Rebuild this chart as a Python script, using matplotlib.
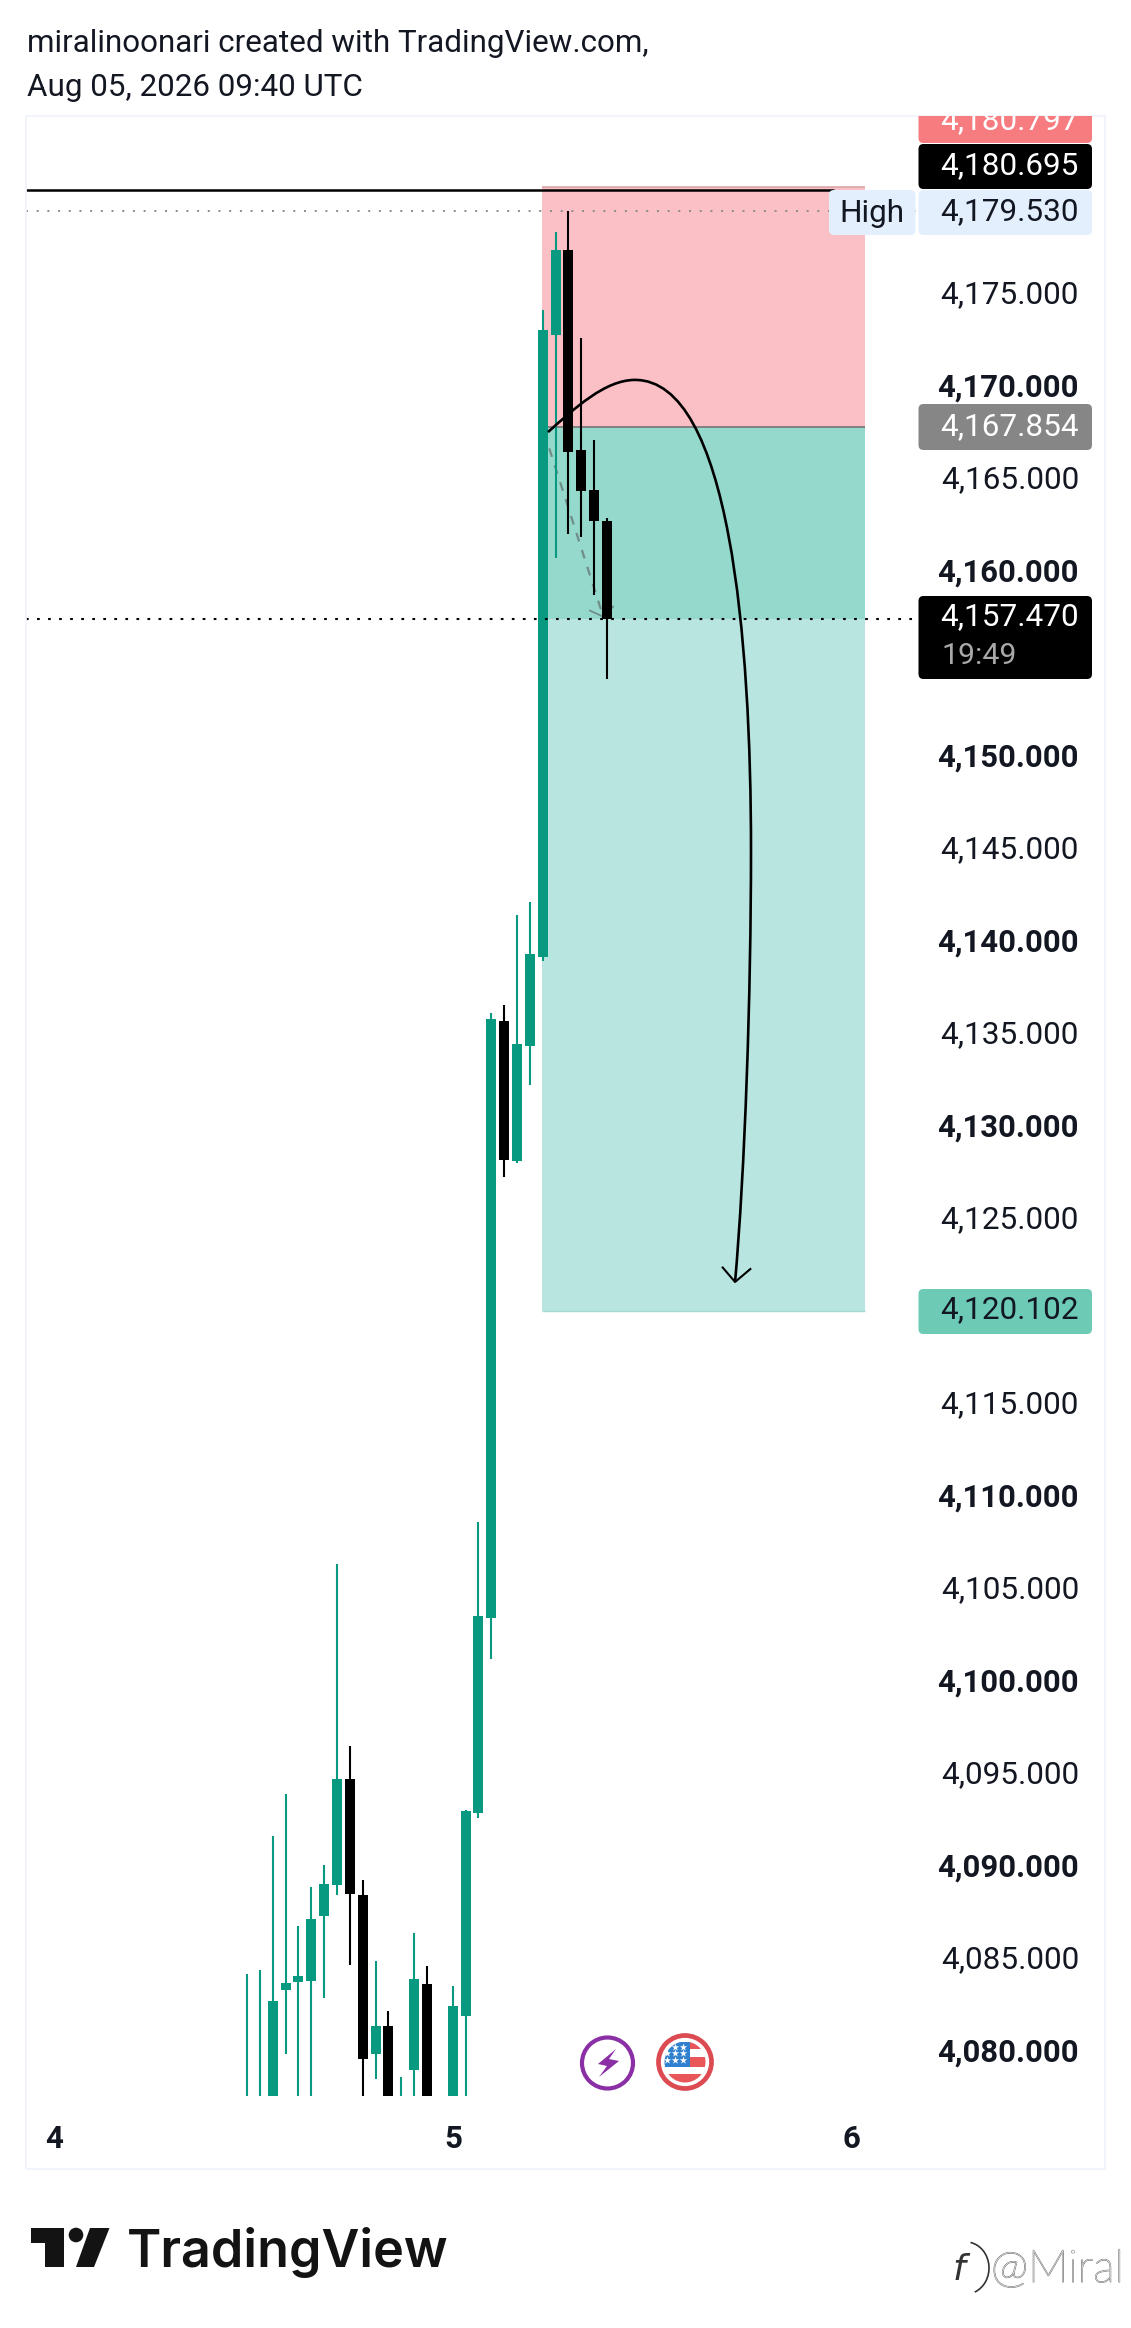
import matplotlib
matplotlib.use('Agg')
import matplotlib.pyplot as plt
import matplotlib.patheffects as pe
from matplotlib.patches import Rectangle, Circle, Polygon, FancyBboxPatch, PathPatch, Arc
from matplotlib.path import Path

plt.rcParams['font.family'] = ['Roboto', 'DejaVu Sans']

# Candles. First is bar 0, values below 4077.6 are cut by the pane
opens = [4076, 4076, 4076, 4083.38, 4083.8, 4083.86, 4087.38, 4089.03, 4094.79, 4088.53,
         4079.93, 4081.42, 4076, 4079.04, 4083.7, None, 4076, 4082.0, 4092.96, 4103.5,
         4135.76, 4128.2, 4134.4, 4139.2, 4172.86, 4177.43, 4166.6, 4164.44, 4162.8]
closes = [4076.5, 4076.5, 4082.77, 4083.74, 4084.16, 4087.21, 4089.13, 4094.79, 4088.58, 4079.65,
          4081.42, 4076, 4076.5, 4083.96, 4076, None, 4082.52, 4093.06, 4103.59, 4135.87,
          4128.24, 4134.5, 4139.4, 4173.1, 4177.43, 4166.5, 4164.4, 4162.8, 4157.47]
highs = [4084.26, 4084.46, 4091.71, 4094.0, 4086.84, 4088.93, 4090.12, 4106.42, 4096.58, 4089.33,
         4084.95, 4082.27, 4078.69, 4086.44, 4084.66, None, 4083.57, 4093.1, 4108.67, 4136.2,
         4136.6, 4141.5, 4142.2, 4174.2, 4178.4, 4179.53, 4172.7, 4167.15, 4162.95]
lows = [4074, 4074, 4074, 4079.93, 4074, 4074, 4082.97, 4088.53, 4084.75, 4074,
        4078.59, 4074, 4074, 4074, 4074, None, 4074, 4074, 4092.7, 4101.25,
        4127.3, 4128.1, 4132.3, 4139.0, 4160.76, 4162.1, 4161.9, 4158.8, 4154.26]

# Price levels, 4155 and 4120 sit under the price boxes so they are left out
price_ticks = [4175, 4170, 4165, 4160, 4150, 4145, 4140, 4135, 4130, 4125,
               4115, 4110, 4105, 4100, 4095, 4090, 4085, 4080]
stop_price = 4180.84
entry_price = 4167.854
target_price = 4120.102
last_price = 4157.47
high_price = 4179.53
line_price = 4180.695
line_end_bar = 45.66

# Long/short tool extent and time axis, in bar numbers
tool_bars = [22.93, 48.08]
time_ticks = [-15.01, 16.02, 46.98]
time_labels = ['4', '5', '6']

# Drawn curve with arrow (bar number, price)
curve_bars = [23.41, 25.51, 27.85, 30.18, 37.57, 39.2, 39.2, 39.2, 38.73, 37.96]
curve_prices = [4167.59, 4168.89, 4170.41, 4170.41, 4170.41, 4156.35, 4145.0, 4137.16, 4127.7, 4121.65]
head_bars = [37.0, 37.96, 39.15]
head_prices = [4122.43, 4121.65, 4122.35]
dash_bars = [23.51, 27.71]
dash_prices = [4166.71, 4157.61]
dash_head_bars = [26.68, 27.71, 28.47]
dash_head_prices = [4157.94, 4157.61, 4158.15]

GREEN = '#089981'
W, H = 1131, 2328

fig = plt.figure(figsize=(W / 100, H / 100), dpi=100, facecolor='white')


def axes_box(x0, y0, x1, y1):
    return [x0 / W, 1 - y1 / H, (x1 - x0) / W, (y1 - y0) / H]


ax = fig.add_axes(axes_box(26, 116, 918.5, 2096))
ax.patch.set_alpha(0)
ax.set_xlim((26 - 247) / 12.857, (918.5 - 247) / 12.857)
ax.set_ylim(4175 - (2096 - 295) / 18.5, 4175 + (295 - 116) / 18.5)
for s in ax.spines.values():
    s.set_visible(False)

# position tool
ax.add_patch(Rectangle((tool_bars[0], entry_price), tool_bars[1] - tool_bars[0], stop_price - entry_price,
                       fc='#FBC0C5', ec='none', zorder=1))
ax.add_patch(Rectangle((tool_bars[0], target_price), tool_bars[1] - tool_bars[0], entry_price - target_price,
                       fc='#B8E5DF', ec='none', zorder=1))
ax.add_patch(Rectangle((tool_bars[0], last_price), tool_bars[1] - tool_bars[0], entry_price - last_price,
                       fc='#95D9CC', ec='none', zorder=1.1))
ax.hlines(entry_price, tool_bars[0], tool_bars[1], color='#808080', lw=1.4, zorder=1.2)
ax.hlines(stop_price, tool_bars[0], tool_bars[1], color='#D9A5A8', lw=1.2, zorder=1.2)
ax.hlines(target_price, tool_bars[0], tool_bars[1], color='#A5DAD2', lw=1, zorder=1.2)

ax.hlines(line_price, ax.get_xlim()[0], line_end_bar, color='black', lw=1.8, zorder=3)
ax.axhline(high_price, color='#8a8a8a', lw=1.4, ls=(0, (1, 4.5)), zorder=2)
ax.axhline(last_price, color='black', lw=1.5, ls=(0, (1.3, 4)), zorder=4)

# dashed path of the drawing sits below the candles
ax.plot(dash_bars, dash_prices, color='#6F8E88', lw=1.6, ls=(0, (4, 4)), zorder=2)
ax.plot(dash_head_bars, dash_head_prices, color='#6F8E88', lw=1.3, zorder=2)

for i in range(len(opens)):
    if opens[i] is None:
        continue
    col = GREEN if closes[i] >= opens[i] else 'black'
    ax.vlines(i, lows[i], highs[i], color=col, lw=1.5, zorder=3)
    ax.bar(i, abs(closes[i] - opens[i]), bottom=min(opens[i], closes[i]), width=0.78, color=col, lw=0, zorder=3.1)

verts = list(zip(curve_bars, curve_prices))
codes = [Path.MOVETO] + [Path.CURVE4] * 9
ax.add_patch(PathPatch(Path(verts, codes), fc='none', ec='black', lw=1.9, zorder=5))
ax.plot(head_bars, head_prices, color='black', lw=1.5, zorder=5)

ax.yaxis.tick_right()
ax.set_yticks(price_ticks)
ax.set_yticklabels([f'{v:,.3f}' for v in price_ticks], fontsize=22.7, color='#131722', ha='right', va='center')
for v, lab in zip(price_ticks, ax.get_yticklabels()):
    if v % 10 == 0:
        lab.set_fontweight('bold')
        lab.set_fontsize(22.3)
ax.tick_params(axis='y', length=0, pad=115.6)
ax.set_xticks(time_ticks)
ax.set_xticklabels(time_labels, fontsize=22.5, fontweight='semibold', color='#131722')
ax.tick_params(axis='x', length=0, pad=20)

# everything around the chart goes on a pixel overlay
ov = fig.add_axes([0, 0, 1, 1], zorder=5)
ov.set_xlim(0, W)
ov.set_ylim(H, 0)
ov.axis('off')
ov.patch.set_alpha(0)

frame = Rectangle((26, 116), 1079, 2053, fc='none', ec='#F0F3FA', lw=1.3)
ov.add_patch(frame)


def price_box(y0, y1, fc, x0=918.5, x1=1092):
    p = FancyBboxPatch((x0, y0), x1 - x0, y1 - y0, boxstyle='round,pad=0,rounding_size=5', fc=fc, ec='none')
    ov.add_patch(p)
    return p


def price_text(y, s, col):
    return ov.text(1079, y, s, ha='right', va='center', fontsize=22.7, color=col)


clip = Rectangle((900, 116), 206, 200, transform=ov.transData)
red = price_box(100, 143, '#F77C80')
red.set_clip_path(clip)
t = price_text(121, '4,180.797', 'white')
t.set_clip_path(clip)
price_box(144, 189, 'black')
price_text(166, '4,180.695', 'white')
price_box(190, 235, '#E3EFFD')
price_box(190, 235, '#E3EFFD', x0=829, x1=915.5)
price_text(212, '4,179.530', '#131722')
ov.text(872, 211, 'High', ha='center', va='center_baseline', fontsize=22.7, color='#131722')
price_box(404, 450, '#868686')
price_text(427, '4,167.854', 'white')
price_box(596, 679, 'black')
price_text(617, '4,157.470', 'white')
ov.text(942, 653, '19:49', ha='left', va='center_baseline', fontsize=21.8, color='#A8A8A8')
price_box(1289, 1334, '#6CCAB5')
price_text(1310, '4,120.102', '#131722')

# header
ov.text(27, 40, 'miralinoonari created with TradingView.com,', fontsize=22.55, color='#131722', va='center_baseline')
ov.text(27, 85, 'Aug 05, 2026 09:40 UTC', fontsize=22.55, color='#131722', va='center_baseline')

# event icons
ov.add_patch(Circle((607.5, 2063), 25.5, fc='white', ec='#8A2FA6', lw=3))
ov.add_patch(Polygon([(616, 2049), (598, 2064), (607, 2066), (599, 2077), (619, 2061), (609, 2059)],
                     fc='#8A2FA6', ec='none'))
ov.add_patch(Circle((685, 2062), 26.5, fc='white', ec='#DC4A52', lw=3.4))
flag_clip = Circle((685, 2062), 20.5, transform=ov.transData)
for y0, y1, x0, col in [(2042, 2049, 689, '#E8565A'), (2057, 2067, 689, '#E8565A'), (2074, 2085, 661, '#E8565A')]:
    r = Rectangle((x0, y0), 713 - x0, y1 - y0, fc=col, ec='none')
    ov.add_patch(r)
    r.set_clip_path(flag_clip)
canton = Rectangle((661, 2042), 28.5, 25, fc='#2F80CF', ec='none')
ov.add_patch(canton)
canton.set_clip_path(flag_clip)
ov.scatter([667, 675, 683, 667, 675, 683, 675, 683],
           [2060, 2060, 2060, 2053, 2053, 2053, 2047, 2047],
           marker='*', s=32, c='white', lw=0)

# logo
ov.add_patch(Polygon([(31, 2228), (64, 2228), (64, 2267), (45, 2267), (45, 2243), (31, 2243)], fc='#131313', ec='none'))
ov.add_patch(Circle((76, 2235), 7.3, fc='#131313', ec='none'))
ov.add_patch(Polygon([(90, 2228), (109.5, 2228), (94, 2267), (76, 2267)], fc='#131313', ec='none'))
ov.text(127, 2267, 'TradingView', family='Inter', fontweight='semibold', fontsize=37.5, color='#131313',
        ha='left', va='baseline')

# watermark
wm = dict(family='Lato', fontweight='light', fontsize=32.5, color='white', va='baseline', ha='left')
ov.text(991, 2282, '@Miral', path_effects=[pe.withStroke(linewidth=0.9, foreground='#8a8a8a')], **wm)
ov.text(953, 2280, 'f', family='DejaVu Sans', style='italic', fontsize=26, color='#333333', va='baseline')
ov.add_patch(Arc((966, 2268), 46, 52, theta1=-80, theta2=70, ec='#333333', lw=1.2))

fig.savefig('out.png', dpi=100)
